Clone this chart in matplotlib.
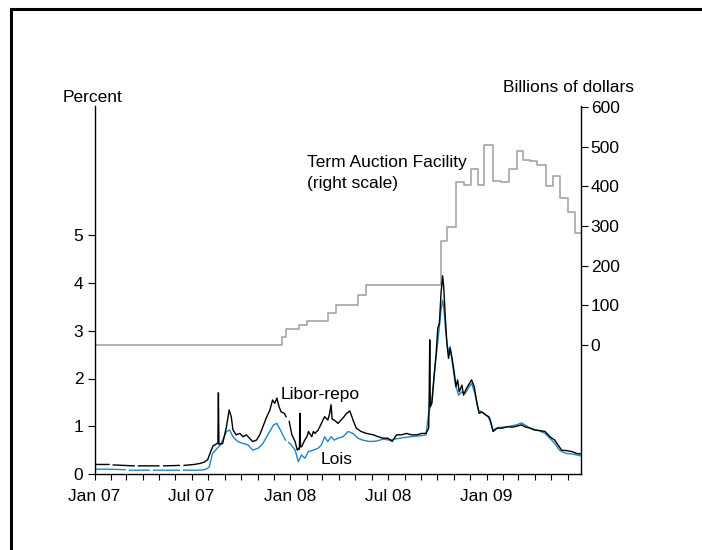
import numpy as np
import pandas as pd
import matplotlib
matplotlib.use("Agg")
import matplotlib.pyplot as plt
import matplotlib.dates as mdates
from matplotlib.lines import Line2D

plt.rcParams['font.family'] = ['Liberation Sans', 'DejaVu Sans']

# Libor-repo spread (percent), None = missing days
libor_dates = [
    "2007-01-02", "2007-01-28", "2007-02-01", "2007-02-05", "2007-02-27", "2007-03-16",
    "2007-03-20", "2007-03-24", "2007-04-13", "2007-05-01", "2007-05-05", "2007-05-10",
    "2007-06-08", "2007-06-12", "2007-06-17", "2007-07-06", "2007-07-16", "2007-07-25",
    "2007-07-31", "2007-08-05", "2007-08-10", "2007-08-15", "2007-08-19", "2007-08-20",
    "2007-08-21", "2007-08-28", "2007-09-04", "2007-09-09", "2007-09-13", "2007-09-16",
    "2007-09-22", "2007-09-29", "2007-10-05", "2007-10-11", "2007-10-17", "2007-10-23",
    "2007-10-30", "2007-11-05", "2007-11-11", "2007-11-17", "2007-11-24", "2007-11-29",
    "2007-12-03", "2007-12-07", "2007-12-11", "2007-12-15", "2007-12-21", "2007-12-24",
    "2007-12-27", "2007-12-30", "2008-01-04", "2008-01-10", "2008-01-14", "2008-01-17",
    "2008-01-18", "2008-01-19", "2008-01-20", "2008-01-22", "2008-01-28", "2008-02-01",
    "2008-02-04", "2008-02-10", "2008-02-13", "2008-02-16", "2008-02-22", "2008-02-25",
    "2008-02-28", "2008-03-05", "2008-03-11", "2008-03-14", "2008-03-17", "2008-03-19",
    "2008-03-23", "2008-03-30", "2008-04-08", "2008-04-15", "2008-04-21", "2008-04-27",
    "2008-05-03", "2008-05-12", "2008-05-22", "2008-06-04", "2008-06-13", "2008-06-22",
    "2008-07-01", "2008-07-09", "2008-07-17", "2008-07-26", "2008-08-05", "2008-08-14",
    "2008-08-24", "2008-09-02", "2008-09-10", "2008-09-15", "2008-09-16", "2008-09-17",
    "2008-09-18", "2008-09-21", "2008-09-25", "2008-09-29", "2008-10-02", "2008-10-05",
    "2008-10-08", "2008-10-11", "2008-10-13", "2008-10-16", "2008-10-19", "2008-10-22",
    "2008-10-25", "2008-10-28", "2008-11-01", "2008-11-05", "2008-11-08", "2008-11-11",
    "2008-11-16", "2008-11-19", "2008-11-23", "2008-11-28", "2008-12-04", "2008-12-09",
    "2008-12-14", "2008-12-18", "2008-12-23", "2008-12-30", "2009-01-05", "2009-01-08",
    "2009-01-13", "2009-01-21", "2009-01-30", "2009-02-09", "2009-02-18", "2009-02-26",
    "2009-03-07", "2009-03-13", "2009-03-23", "2009-04-01", "2009-04-10", "2009-04-20",
    "2009-04-29", "2009-05-08", "2009-05-14", "2009-05-21", "2009-05-30", "2009-06-09",
    "2009-06-18", "2009-06-25",
]
libor_repo = [
    0.20, 0.20, None, 0.19, 0.18, 0.17,
    None, 0.17, 0.17, 0.17, None, 0.17,
    0.18, None, 0.18, 0.20, 0.22, 0.25,
    0.30, 0.45, 0.59, 0.62, 0.65, 1.70,
    0.62, 0.64, 0.99, 1.34, 1.20, 0.93,
    0.82, 0.85, 0.78, 0.82, 0.75, 0.68,
    0.71, 0.82, 0.99, 1.17, 1.34, 1.55,
    1.48, 1.59, 1.41, 1.30, 1.27, 1.20,
    None, 1.10, 0.82, 0.68, 0.50, 0.54,
    0.52, 1.27, 0.57, 0.57, 0.71, 0.78,
    0.89, 0.78, 0.89, 0.85, 0.92, 0.99,
    1.06, 1.20, 1.13, 1.25, 1.45, 1.15,
    1.13, 1.06, 1.17, 1.27, 1.32, 1.13,
    0.96, 0.89, 0.85, 0.82, 0.78, 0.75,
    0.75, 0.68, 0.82, 0.82, 0.85, 0.82,
    0.82, 0.85, 0.85, 0.96, 1.65, 2.81,
    1.41, 1.48, 2.04, 2.53, 3.05, 3.16,
    3.78, 4.15, 3.92, 3.29, 2.74, 2.42,
    2.63, 2.46, 2.18, 1.83, 1.97, 1.72,
    1.86, 1.65, 1.76, 1.86, 1.97, 1.83,
    1.48, 1.27, 1.30, 1.24, 1.20, 1.13,
    0.89, 0.96, 0.96, 0.99, 0.98, 1.00,
    1.03, 0.99, 0.96, 0.92, 0.91, 0.89,
    0.78, 0.71, 0.61, 0.50, 0.49, 0.47,
    0.43, 0.42,
]

# Lois spread (percent)
lois_dates = [
    "2007-01-02", "2007-01-30", "2007-02-27", "2007-03-03", "2007-03-07", "2007-03-16",
    "2007-04-13", "2007-04-17", "2007-04-21", "2007-05-10", "2007-06-08", "2007-06-12",
    "2007-06-16", "2007-07-16", "2007-07-25", "2007-07-31", "2007-08-03", "2007-08-09",
    "2007-08-18", "2007-08-24", "2007-09-04", "2007-09-10", "2007-09-16", "2007-09-25",
    "2007-10-05", "2007-10-14", "2007-10-23", "2007-11-02", "2007-11-11", "2007-11-20",
    "2007-12-01", "2007-12-07", "2007-12-15", "2007-12-23", "2007-12-26", "2007-12-29",
    "2008-01-02", "2008-01-10", "2008-01-16", "2008-01-22", "2008-01-28", "2008-02-04",
    "2008-02-13", "2008-02-22", "2008-02-28", "2008-03-05", "2008-03-11", "2008-03-17",
    "2008-03-23", "2008-03-30", "2008-04-08", "2008-04-18", "2008-04-27", "2008-05-06",
    "2008-05-15", "2008-05-28", "2008-06-10", "2008-06-22", "2008-07-04", "2008-07-23",
    "2008-08-11", "2008-08-30", "2008-09-10", "2008-09-15", "2008-09-21", "2008-09-27",
    "2008-10-03", "2008-10-08", "2008-10-11", "2008-10-13", "2008-10-16", "2008-10-19",
    "2008-10-22", "2008-10-25", "2008-10-30", "2008-11-04", "2008-11-10", "2008-11-16",
    "2008-11-22", "2008-11-28", "2008-12-04", "2008-12-10", "2008-12-17", "2008-12-23",
    "2008-12-30", "2009-01-05", "2009-01-13", "2009-01-21", "2009-02-09", "2009-02-26",
    "2009-03-07", "2009-03-13", "2009-03-23", "2009-04-10", "2009-04-20", "2009-04-29",
    "2009-05-08", "2009-05-17", "2009-05-21", "2009-05-30", "2009-06-09", "2009-06-18",
    "2009-06-25",
]
lois = [
    0.10, 0.10, 0.09, None, 0.08, 0.08,
    0.08, None, 0.08, 0.08, 0.08, None,
    0.08, 0.08, 0.09, 0.12, 0.15, 0.43,
    0.54, 0.61, 0.89, 0.92, 0.78, 0.68,
    0.64, 0.61, 0.50, 0.54, 0.64, 0.82,
    1.03, 1.06, 0.89, 0.71, None, 0.66,
    0.62, 0.50, 0.26, 0.40, 0.33, 0.47,
    0.50, 0.54, 0.61, 0.78, 0.68, 0.78,
    0.71, 0.75, 0.78, 0.89, 0.85, 0.75,
    0.71, 0.68, 0.69, 0.73, 0.71, 0.75,
    0.78, 0.80, 0.82, 1.27, 1.55, 2.25,
    2.88, 3.43, 3.64, 3.50, 3.08, 2.74,
    2.56, 2.67, 2.25, 1.86, 1.65, 1.72,
    1.69, 1.80, 1.90, 1.69, 1.34, 1.30,
    1.24, 1.18, 0.92, 0.97, 0.99, 1.03,
    1.07, 1.03, 0.96, 0.90, 0.85, 0.75,
    0.64, 0.50, 0.47, 0.43, 0.42, 0.40,
    0.38,
]

# Term Auction Facility outstanding (billions of dollars), step changes
taf_dates = [
    "2007-01-01", "2007-12-17", "2007-12-24", "2008-01-17", "2008-02-01", "2008-03-12",
    "2008-03-27", "2008-05-07", "2008-05-22", "2008-10-08", "2008-10-19", "2008-11-05",
    "2008-11-19", "2008-12-03", "2008-12-16", "2008-12-28", "2009-01-13", "2009-01-28",
    "2009-02-12", "2009-02-26", "2009-03-09", "2009-03-22", "2009-04-05", "2009-04-21",
    "2009-05-04", "2009-05-18", "2009-06-01", "2009-06-15", "2009-06-26",
]
taf = [
    0, 20, 40, 50, 60, 80,
    100, 125, 150, 263, 298, 411,
    404, 444, 404, 504, 414, 410,
    444, 489, 466, 464, 454, 400,
    427, 371, 335, 281, 281,
]

W, H = 702, 550
fig = plt.figure(figsize=(W / 100, H / 100), dpi=100)

def fx(px):
    return px / W

def fy(py):
    return 1 - py / H

ax1 = fig.add_axes([fx(94.5), fy(474), fx(581) - fx(94.5), fy(106) - fy(474)])
ax2 = ax1.twinx()
ax1.set_zorder(ax2.get_zorder() + 1)
ax1.patch.set_visible(False)

ld = pd.to_datetime(libor_dates)
od = pd.to_datetime(lois_dates)
td = pd.to_datetime(taf_dates)
lv = np.array([np.nan if v is None else v for v in libor_repo], dtype=float)
ov = np.array([np.nan if v is None else v for v in lois], dtype=float)

ax2.step(td, taf, where='post', color='#a6a6a6', lw=1.2)
ax1.plot(od, ov, color='#1f85c9', lw=1.0)
ax1.plot(ld, lv, color='black', lw=1.0)

# scales
ax1.set_ylim(0, (474 - 106) / 47.75)
ax2.set_ylim(-(474 - 345) / 0.396, 600 + (107 - 106) / 0.396)
ax1.set_xlim(pd.Timestamp("2007-01-01"), pd.Timestamp("2009-06-26"))

ax1.set_yticks([0, 1, 2, 3, 4, 5])
ax2.set_yticks([0, 100, 200, 300, 400, 500, 600])

ax1.xaxis.set_major_locator(mdates.MonthLocator(bymonth=[1, 7]))
ax1.xaxis.set_minor_locator(mdates.MonthLocator())
ax1.xaxis.set_major_formatter(mdates.DateFormatter('%b %y'))

for s in ['top', 'right']:
    ax1.spines[s].set_visible(False)
for s in ['top', 'left', 'bottom']:
    ax2.spines[s].set_visible(False)
for ax in (ax1, ax2):
    for s in ax.spines.values():
        s.set_linewidth(1.0)

ax1.tick_params(axis='y', direction='out', length=5, width=0.8, labelsize=12.5, pad=3)
ax1.tick_params(axis='x', which='both', direction='out', length=4, width=0.8,
                labelsize=12.5, pad=7)
ax2.tick_params(axis='y', direction='out', length=5, width=0.8, labelsize=12.5, pad=2)
for lab in ax1.get_xticklabels():
    lab.set_ha('center')

# axis titles and annotations
fs = 12.5
fig.text(fx(63), fy(97), "Percent", fontsize=fs, ha='left', va='center')
fig.text(fx(634), fy(87), "Billions of dollars", fontsize=fs, ha='right', va='center')
fig.text(fx(307), fy(162), "Term Auction Facility", fontsize=fs, ha='left', va='center')
fig.text(fx(307), fy(184), "(right scale)", fontsize=fs, ha='left', va='center')
fig.text(fx(281), fy(394), "Libor-repo", fontsize=fs, ha='left', va='center')
fig.text(fx(321), fy(460), "Lois", fontsize=fs, ha='left', va='center')

# frame around the panel (top and left edges show)
fig.add_artist(Line2D([fx(11), fx(11)], [fy(9), 0], color='black', lw=2.2))
fig.add_artist(Line2D([fx(11), 1], [fy(9), fy(9)], color='black', lw=2.2))

fig.savefig("out.png", dpi=100)
